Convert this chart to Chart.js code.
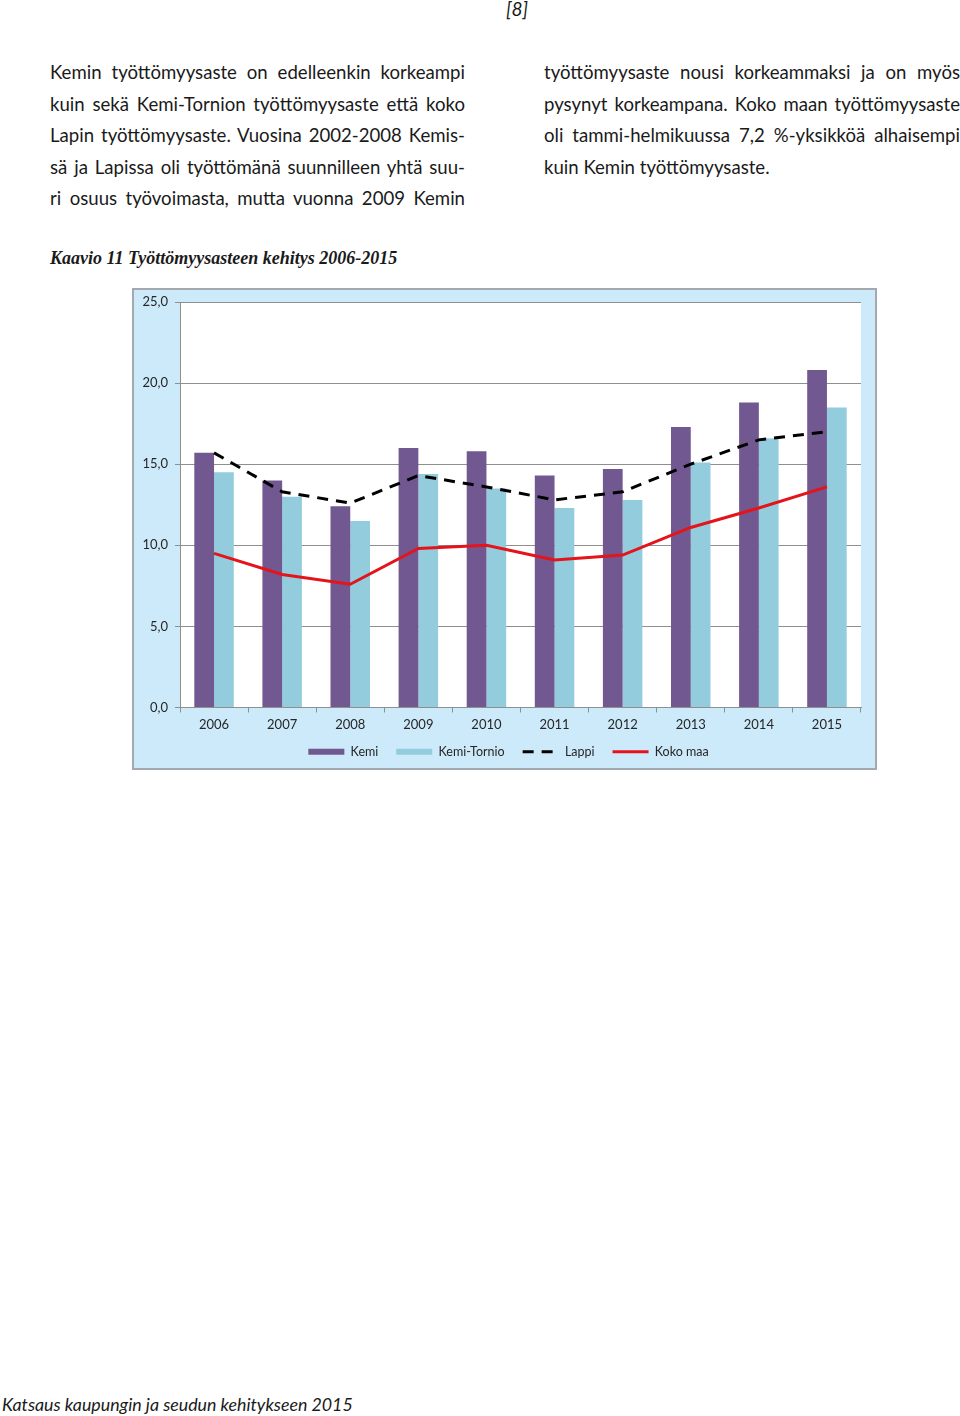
<!DOCTYPE html>
<html lang="fi">
<head>
<meta charset="utf-8">
<script src="https://cdn.jsdelivr.net/npm/chart.js@4.4.1/dist/chart.umd.min.js"></script>
<style>
  html, body { margin: 0; padding: 0; background: #fff; }
  body { width: 960px; height: 1416px; position: relative; overflow: hidden; font-family: Lato, "Open Sans", sans-serif; color: #1a1a1a; }
  .pg { position: absolute; left: 506px; top: -3px; font-style: italic; font-size: 19px; }
  .col { position: absolute; top: 57px; width: 415px; font-size: 18.6px; line-height: 31.6px; }
  .col div { text-align: justify; text-align-last: justify; white-space: nowrap; }
  .col div.last { text-align-last: left; }
  .cap { position: absolute; left: 50px; top: 248px; font-family: "Liberation Serif", serif; font-weight: bold; font-style: italic; font-size: 18px; }
  .foot { position: absolute; left: 2px; top: 1393px; font-style: italic; font-size: 17.8px; }
  #box { position: absolute; left: 132px; top: 288px; width: 745px; height: 482px; box-sizing: border-box; border: 2px solid #a3a9ae; background: #cdeafa; }
  #c { display: block; }
</style>
</head>
<body>
<div class="pg">[8]</div>
<div class="col" style="left:50px">
  <div>Kemin työttömyysaste on edelleenkin korkeampi</div>
  <div>kuin sekä Kemi-Tornion työttömyysaste että koko</div>
  <div>Lapin työttömyysaste. Vuosina 2002-2008 Kemis-</div>
  <div>sä ja Lapissa oli työttömänä suunnilleen yhtä suu-</div>
  <div>ri osuus työvoimasta, mutta vuonna 2009 Kemin</div>
</div>
<div class="col" style="left:544px; width:416px">
  <div>työttömyysaste nousi korkeammaksi ja on myös</div>
  <div>pysynyt korkeampana. Koko maan työttömyysaste</div>
  <div>oli tammi-helmikuussa 7,2 %-yksikköä alhaisempi</div>
  <div class="last">kuin Kemin työttömyysaste.</div>
</div>
<div class="cap">Kaavio 11 Työttömyysasteen kehitys 2006-2015</div>
<div id="box"><canvas id="c" width="741" height="478"></canvas></div>
<div class="foot">Katsaus kaupungin ja seudun kehitykseen 2015</div>

<script>
const years = ['2006','2007','2008','2009','2010','2011','2012','2013','2014','2015'];
const kemi = [15.7, 14.0, 12.4, 16.0, 15.8, 14.3, 14.7, 17.3, 18.8, 20.8];
const kemiTornio = [14.5, 13.0, 11.5, 14.4, 13.5, 12.3, 12.8, 15.1, 16.6, 18.5];
const lappi = [15.7, 13.3, 12.6, 14.3, 13.6, 12.8, 13.3, 15.0, 16.5, 17.0];
const kokoMaa = [9.5, 8.2, 7.6, 9.8, 10.0, 9.1, 9.4, 11.1, 12.3, 13.6];
const yTickLabels = ['0,0', '5,0', '10,0', '15,0', '20,0', '25,0'];

const gridColor = '#8f8f8f';
const txt = '#262626';
const font = { family: 'Lato, "Open Sans", sans-serif', size: 13 };

const plotBg = {
  id: 'plotBg',
  beforeDraw(chart) {
    const { ctx, chartArea: a } = chart;
    ctx.save();
    ctx.fillStyle = '#ffffff';
    ctx.fillRect(a.left, a.top, a.right - a.left, a.bottom - a.top);
    ctx.restore();
  }
};

// keep the legend compact vertically (its item spacing is wide) and nudge it into place
const legendShift = {
  id: 'legendShift',
  beforeLayout(chart) {
    const lg = chart.legend;
    if (lg && !lg._wrappedFit) {
      const orig = lg.fit.bind(lg);
      lg.fit = function () { orig(); this.height -= 7; };
      lg._wrappedFit = true;
    }
  },
  afterLayout(chart) {
    const lg = chart.legend;
    if (!lg) return;
    lg.top -= 6; lg.bottom -= 6;
    lg.left += 11; lg.right += 11;
  }
};

new Chart(document.getElementById('c'), {
  type: 'bar',
  plugins: [plotBg, legendShift],
  data: {
    labels: years,
    datasets: [
      { label: 'Kemi', data: kemi, backgroundColor: '#725890', order: 2,
        categoryPercentage: 0.58, barPercentage: 1.0 },
      { label: 'Kemi-Tornio', data: kemiTornio, backgroundColor: '#93cddd', order: 2,
        categoryPercentage: 0.58, barPercentage: 1.0 },
      { type: 'line', label: 'Lappi', data: lappi, borderColor: '#000000', backgroundColor: '#000000',
        borderWidth: 3, borderDash: [11, 8], pointRadius: 0, tension: 0, order: 0 },
      { type: 'line', label: 'Koko maa', data: kokoMaa, borderColor: '#e3141b', backgroundColor: '#e3141b',
        borderWidth: 3, pointRadius: 0, tension: 0, order: 0 }
    ]
  },
  options: {
    responsive: false,
    animation: false,
    devicePixelRatio: 1,
    layout: { padding: { top: 12, right: 14, left: 0, bottom: 1 } },
    plugins: {
      tooltip: { enabled: false },
      legend: {
        position: 'bottom',
        labels: {
          usePointStyle: true,
          pointStyleWidth: 36,
          boxHeight: 6,
          padding: 18,
          color: txt,
          font: { family: font.family, size: 12.5 },
          generateLabels(chart) {
            return chart.data.datasets.map((ds, i) => ({
              text: ds.label,
              fillStyle: ds.type === 'line' ? ds.borderColor : ds.backgroundColor,
              strokeStyle: ds.type === 'line' ? ds.borderColor : ds.backgroundColor,
              lineWidth: ds.type === 'line' ? 3 : 0,
              lineDash: ds.borderDash || [],
              pointStyle: ds.type === 'line' ? 'line' : 'rect',
              hidden: false,
              datasetIndex: i,
              fontColor: txt
            }));
          }
        }
      }
    },
    scales: {
      x: {
        offset: true,
        grid: { offset: true, drawOnChartArea: false, drawTicks: true, tickLength: 5, color: gridColor },
        border: { color: gridColor, width: 1 },
        ticks: { color: txt, font: font, padding: 5, maxRotation: 0 },
        afterFit(s) { s.height = 26; }
      },
      y: {
        min: 0, max: 25,
        grid: { color: gridColor, drawTicks: true, tickLength: 5, lineWidth: 1 },
        border: { color: gridColor, width: 1 },
        ticks: {
          stepSize: 5, color: txt, padding: 7,
          font: { family: font.family, size: 13, lineHeight: 0.7 },
          callback(v) { return yTickLabels[Math.round(v / 5)]; }
        },
        afterFit(s) { s.width = 46; }
      }
    }
  }
});
</script>
</body>
</html>
